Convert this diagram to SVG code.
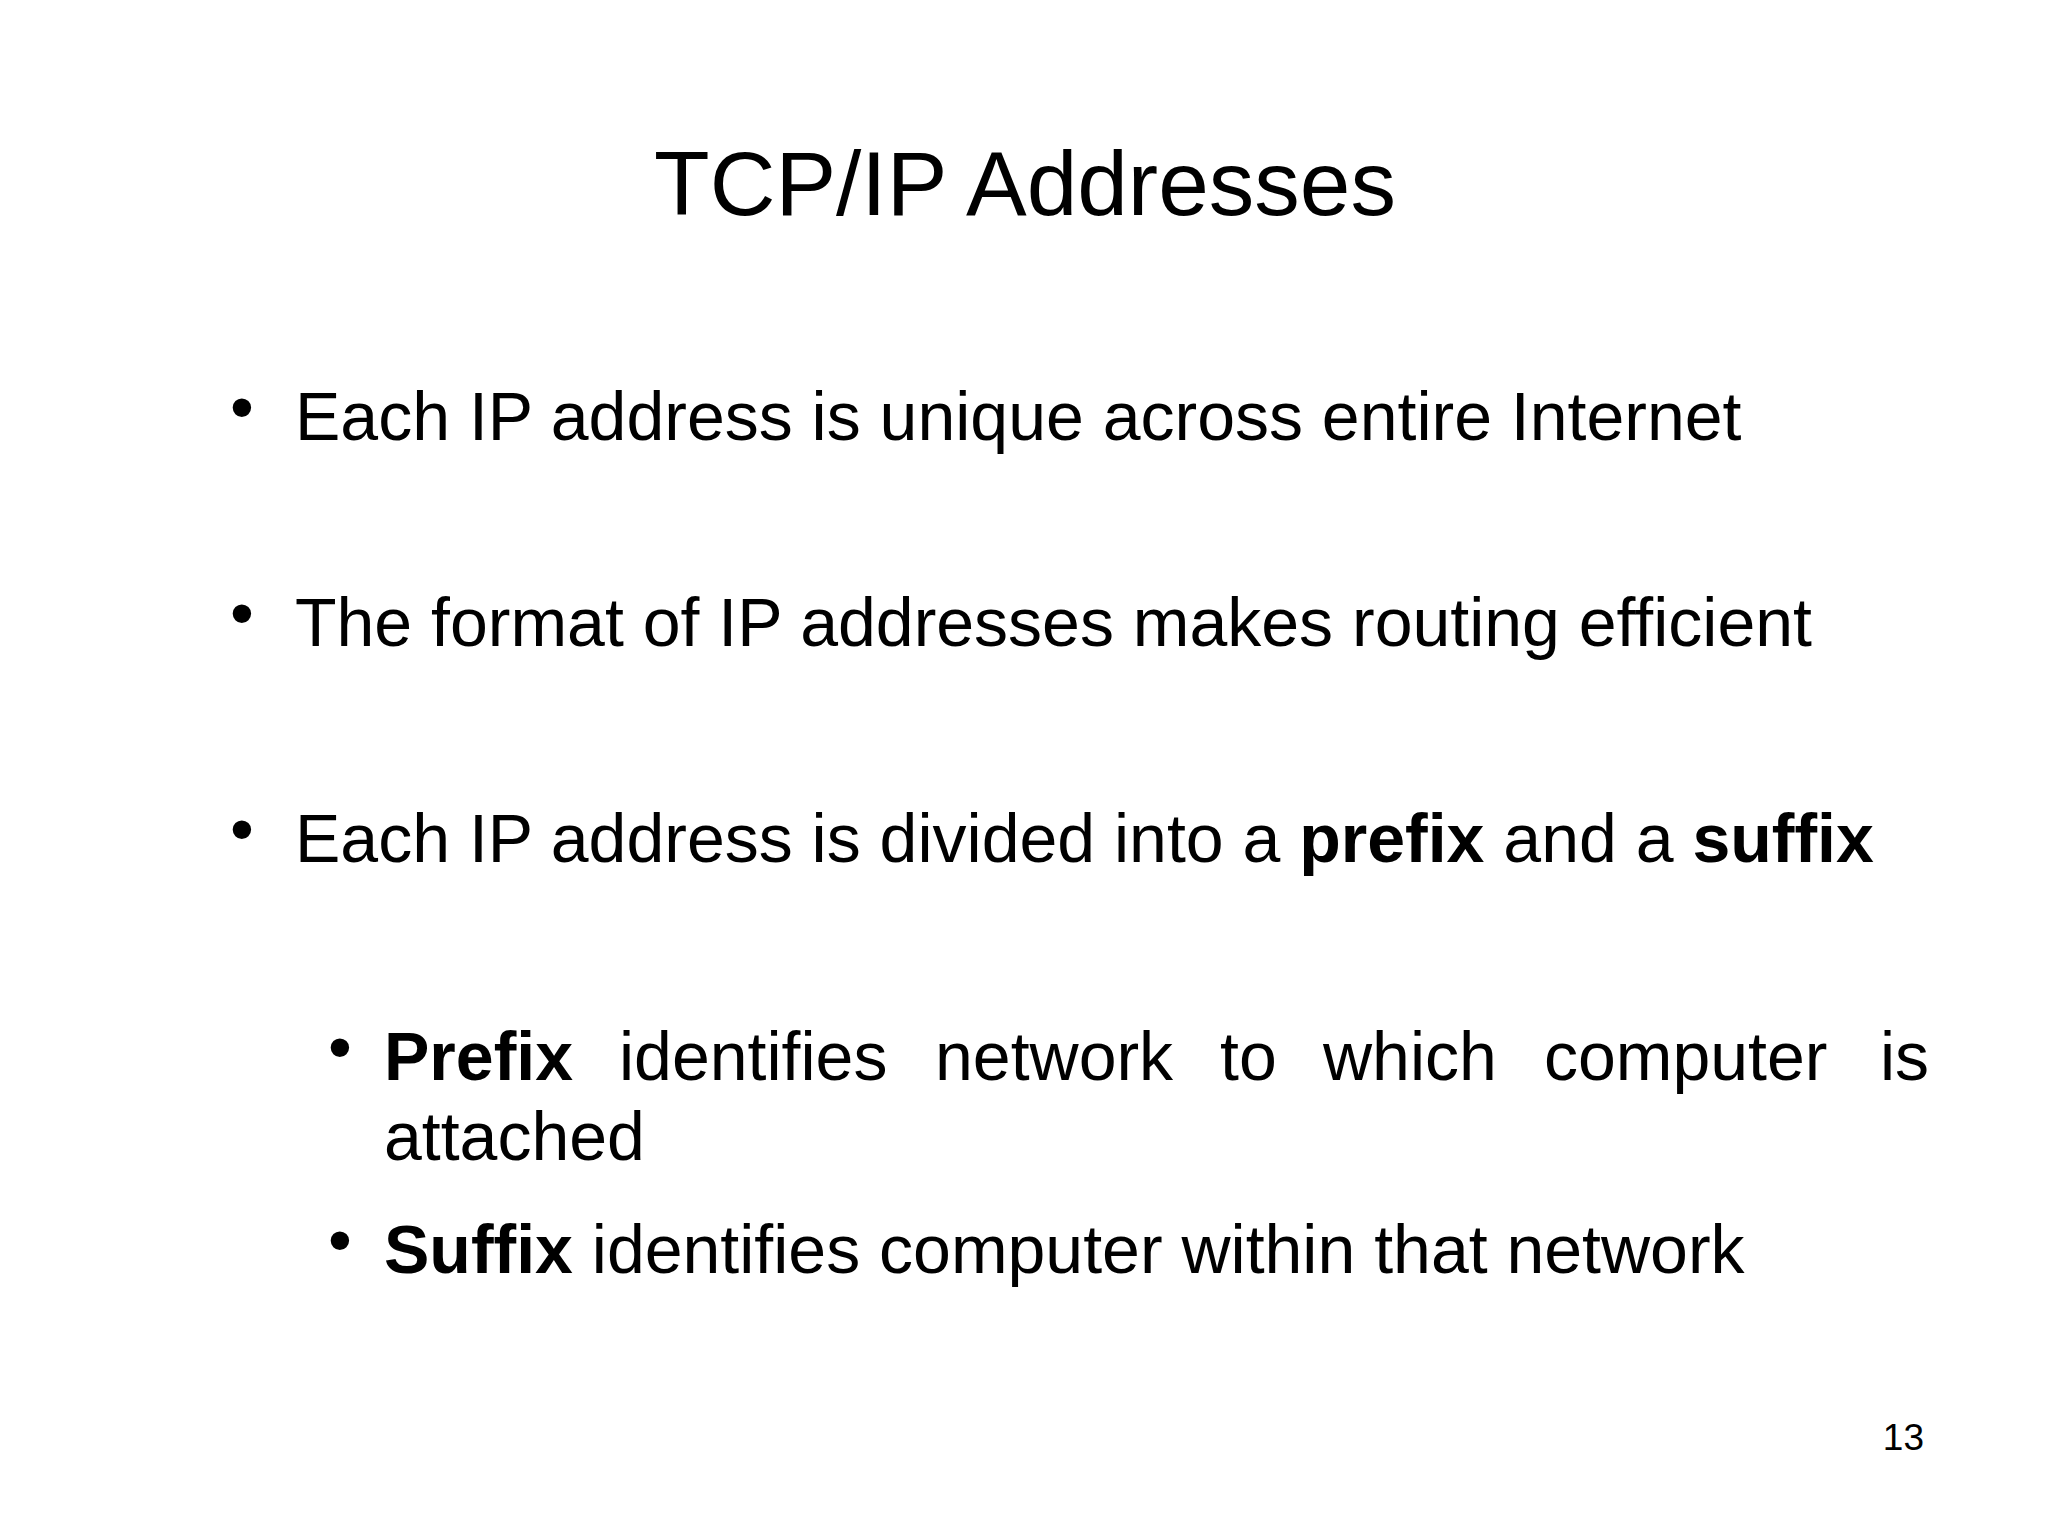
<svg xmlns="http://www.w3.org/2000/svg" width="2048" height="1536" viewBox="0 0 2048 1536">
<style>
text{font-family:"Liberation Sans",Arial,sans-serif;fill:#000}
.b{font-size:68px}
.s{font-size:68px}
.bd{font-weight:bold}
</style>
<rect width="2048" height="1536" fill="#fff"/>
<text x="1025" y="215" font-size="91" text-anchor="middle">TCP/IP Addresses</text>
<g id="bullet1"><text x="230" y="430" class="b">•</text><text x="295" y="440" class="b">Each IP address is unique across entire Internet</text></g>
<g id="bullet2"><text x="230" y="636" class="b">•</text><text x="295" y="646" class="b">The format of IP addresses makes routing efficient</text></g>
<g id="bullet3"><text x="230" y="852" class="b">•</text><text x="295" y="862" class="b">Each IP address is divided into a <tspan class="bd">prefix</tspan> and a <tspan class="bd">suffix</tspan></text></g>
<g id="sub1"><text x="328" y="1070" class="s">•</text>
<text y="1080" class="s"><tspan x="384" class="bd">Prefix</tspan><tspan x="619">identifies</tspan><tspan x="935">network</tspan><tspan x="1220">to</tspan><tspan x="1323">which</tspan><tspan x="1544">computer</tspan><tspan x="1880">is</tspan></text>
<text x="384" y="1160" class="s">attached</text></g>
<g id="sub2"><text x="328" y="1263" class="s">•</text><text x="384" y="1273" class="s"><tspan class="bd">Suffix</tspan> identifies computer within that network</text></g>
<text x="1924" y="1450" font-size="37" text-anchor="end">13</text>
</svg>
